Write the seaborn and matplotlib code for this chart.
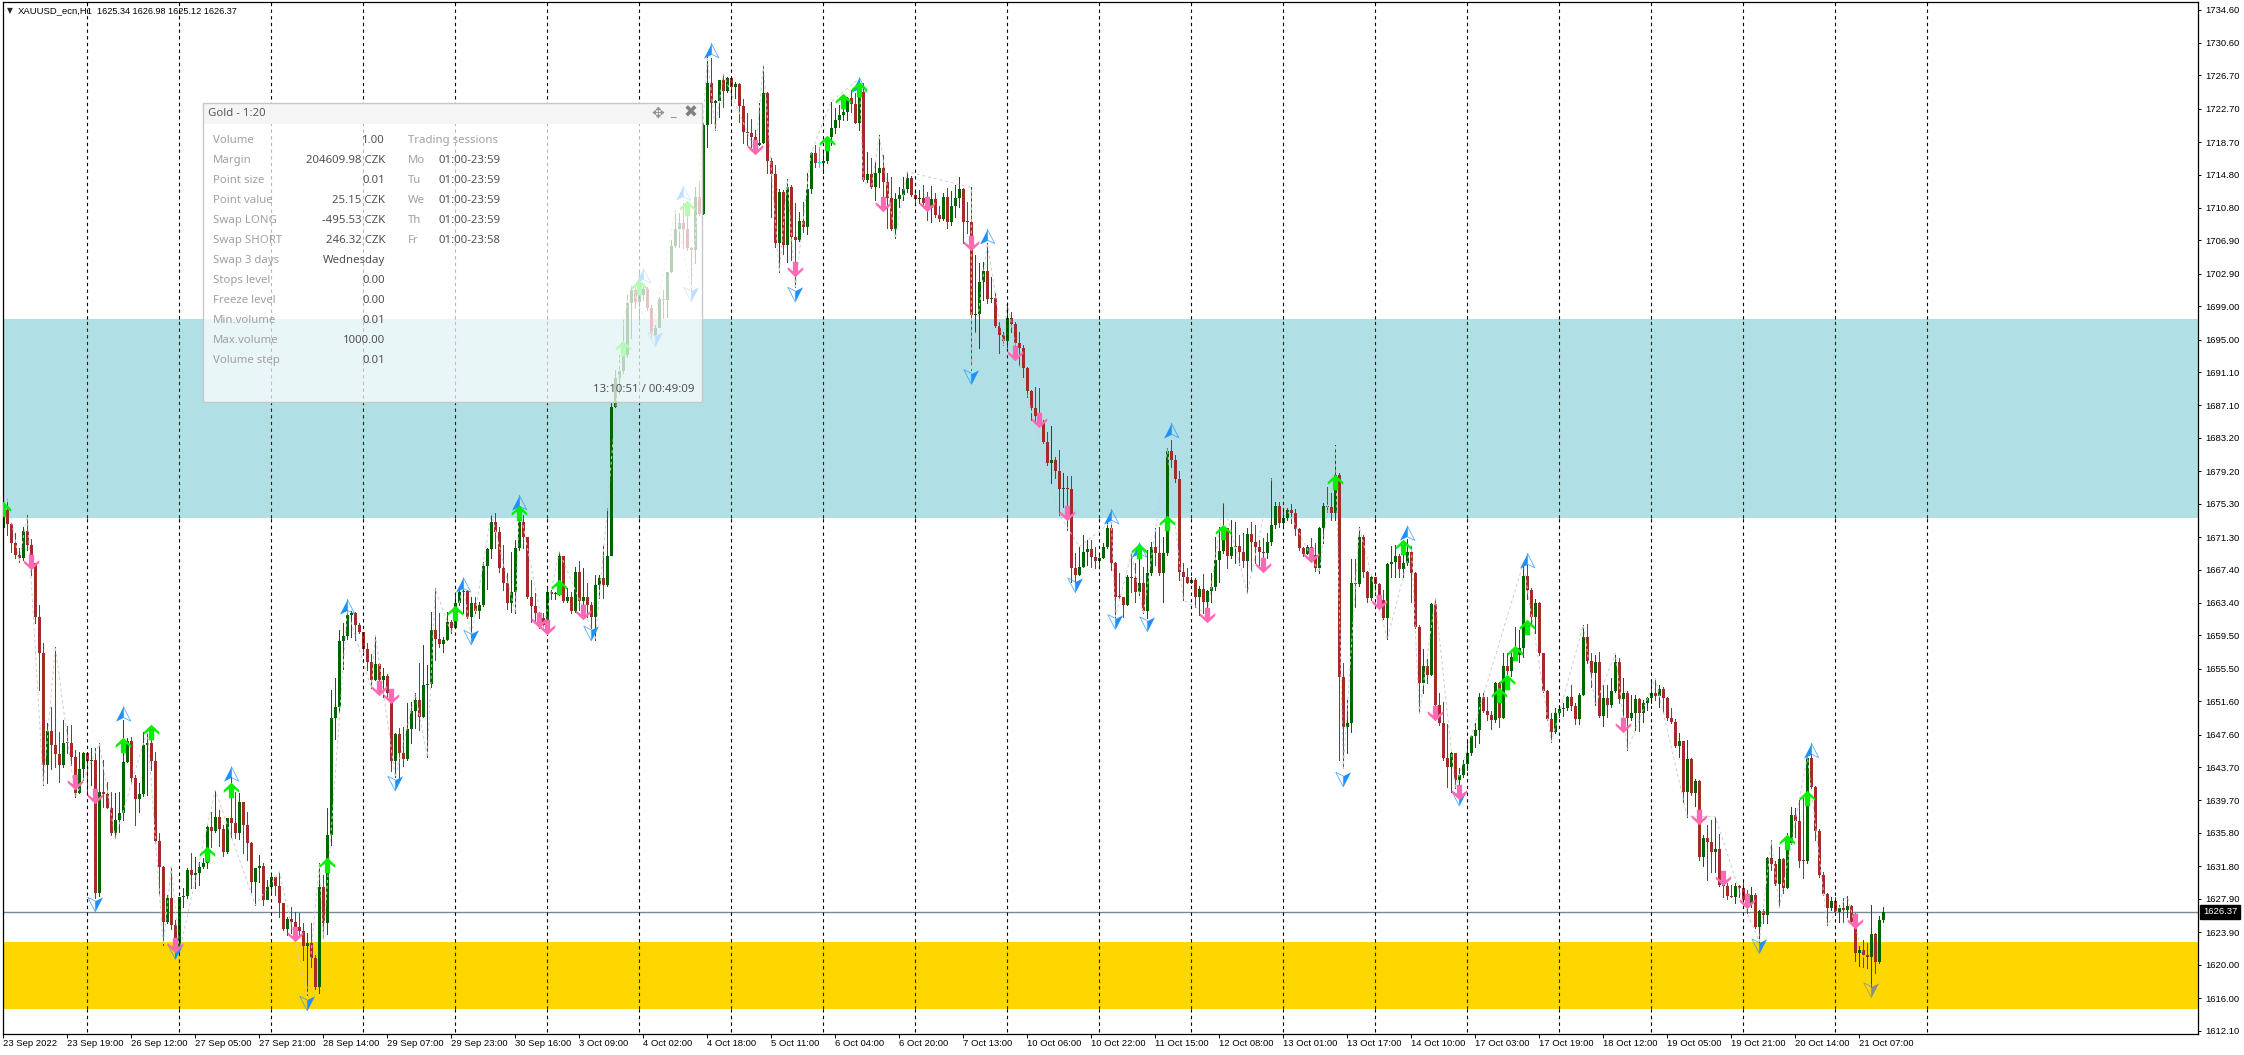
import matplotlib
matplotlib.use('Agg')
import matplotlib.pyplot as plt
import seaborn as sns
import pandas as pd
from matplotlib.patches import Rectangle
from matplotlib.path import Path

sns.set_theme(style='white')
plt.rcParams['font.family'] = ['Liberation Sans', 'DejaVu Sans']

W, H = 2244, 1055

first_open = 1672.35
close_prices = [
    1674.55,1672.83,1670.55,1669.15,1668.75,1672.07,1670.35,1668.15,1661.75,1657.35,
    1643.95,1648.05,1646.35,1645.25,1643.95,1646.65,1646.55,1644.95,1640.63,1643.43,
    1645.35,1644.47,1644.55,1628.55,1640.75,1640.45,1638.85,1635.75,1637.35,1638.23,
    1644.35,1646.87,1642.35,1639.83,1640.47,1646.35,1646.55,1644.47,1634.87,1631.67,
    1625.15,1627.95,1624.75,1621.75,1628.07,1628.23,1631.35,1630.75,1631.03,1631.67,
    1632.23,1636.47,1636.07,1637.75,1636.23,1633.55,1637.55,1637.03,1635.75,1639.55,
    1636.75,1634.55,1629.95,1631.55,1631.83,1627.75,1629.35,1630.47,1629.43,1627.43,
    1624.23,1625.43,1625.11,1624.47,1624.07,1622.23,1622.55,1620.75,1617.35,1629.35,
    1624.95,1635.55,1649.55,1650.95,1658.87,1659.43,1661.95,1662.23,1660.75,1659.95,
    1657.83,1656.35,1654.15,1656.03,1654.15,1654.63,1652.55,1644.43,1647.67,1645.35,
    1644.63,1648.23,1650.47,1651.75,1649.67,1653.55,1653.67,1660.15,1659.03,1658.43,
    1658.95,1661.15,1660.35,1663.35,1664.75,1664.87,1661.75,1663.43,1662.47,1663.15,
    1667.83,1669.83,1673.15,1671.95,1667.55,1665.83,1663.35,1664.75,1669.95,1673.15,
    1671.35,1664.15,1663.03,1662.15,1661.55,1660.75,1664.75,1664.47,1664.60,1669.03,
    1663.67,1664.07,1662.47,1667.15,1663.67,1664.07,1663.15,1661.75,1665.55,1666.43,
    1665.55,1669.03,1686.94,1690.34,1691.26,1693.14,1699.34,1700.94,1699.54,1700.34,
    1701.02,1698.74,1695.54,1696.34,1699.82,1699.74,1703.14,1706.22,1708.22,1708.94,
    1708.22,1705.94,1705.74,1712.06,1710.06,1720.74,1725.82,1723.34,1723.62,1726.14,
    1724.86,1726.34,1725.26,1725.66,1723.02,1719.94,1719.82,1719.34,1718.34,1718.54,
    1724.62,1716.46,1714.86,1706.54,1712.74,1706.34,1713.34,1707.26,1707.00,1709.26,
    1708.54,1713.02,1717.42,1716.22,1716.22,1716.46,1719.26,1720.34,1721.34,1721.94,
    1722.34,1723.94,1723.26,1721.02,1724.74,1714.14,1714.86,1713.26,1714.94,1715.54,
    1713.94,1711.94,1708.22,1711.82,1712.34,1713.02,1714.34,1712.34,1711.90,1712.02,
    1711.34,1710.74,1711.82,1709.95,1709.43,1712.15,1709.15,1711.03,1711.95,1713.10,
    1709.15,1709.05,1697.95,1698.03,1701.95,1703.23,1699.87,1699.95,1696.63,1695.55,
    1694.87,1697.55,1696.87,1694.55,1693.95,1691.63,1688.83,1686.75,1685.83,1685.03,
    1682.75,1680.15,1680.55,1679.27,1677.03,1677.15,1677.03,1667.63,1666.75,1667.75,
    1669.55,1669.83,1668.87,1668.47,1668.75,1670.15,1672.35,1668.23,1664.15,1664.07,
    1663.15,1666.47,1666.35,1664.75,1665.75,1662.47,1666.95,1670.15,1669.43,1666.95,
    1669.35,1681.67,1680.55,1678.23,1667.15,1666.47,1665.83,1666.15,1664.07,1665.03,
    1663.55,1664.87,1665.27,1668.55,1669.67,1672.35,1669.03,1670.15,1670.23,1669.55,
    1668.47,1671.67,1670.75,1670.07,1669.55,1669.43,1670.75,1672.75,1675.03,1672.95,
    1673.55,1674.55,1674.15,1672.23,1669.95,1669.27,1670.15,1669.20,1667.55,1672.35,
    1675.03,1674.87,1674.15,1678.75,1654.55,1648.55,1648.95,1665.75,1665.67,1671.35,
    1667.15,1663.95,1666.55,1665.67,1663.75,1661.55,1668.07,1668.27,1669.03,1667.43,
    1668.23,1669.55,1667.03,1660.55,1653.83,1655.83,1654.75,1663.27,1651.15,1649.03,
    1644.75,1643.75,1645.35,1642.15,1642.75,1644.07,1645.35,1647.43,1648.15,1652.07,
    1650.47,1649.95,1649.35,1653.75,1649.55,1655.83,1655.27,1656.95,1657.15,1657.95,
    1666.63,1664.95,1661.75,1663.43,1657.35,1652.87,1649.43,1647.95,1650.15,1650.63,
    1650.75,1652.15,1651.03,1649.43,1652.35,1659.27,1656.47,1655.03,1656.35,1649.84,
    1651.96,1651.16,1652.84,1656.36,1651.84,1652.56,1649.56,1650.24,1651.84,1650.16,
    1651.36,1651.96,1652.56,1652.24,1653.04,1651.96,1649.56,1649.16,1646.24,1646.88,
    1640.76,1644.64,1640.64,1642.08,1632.96,1635.16,1634.76,1633.56,1633.84,1629.56,
    1629.44,1628.24,1628.16,1629.44,1629.16,1627.76,1627.44,1628.36,1624.56,1626.48,
    1625.96,1632.76,1632.08,1629.68,1632.64,1629.16,1634.56,1637.96,1637.28,1632.48,
    1632.40,1644.76,1641.36,1636.08,1630.76,1628.48,1626.76,1627.64,1626.36,1626.76,
    1626.56,1627.04,1625.16,1621.44,1621.76,1621.16,1620.88,1623.68,1620.36,1625.36,
    1626.37]

high_prices = [
    1675.15,1675.83,1673.03,1671.75,1669.95,1672.55,1674.15,1671.03,1668.15,1663.15,
    1658.55,1648.95,1650.95,1658.15,1647.95,1649.35,1648.63,1648.75,1645.75,1645.55,
    1645.55,1645.55,1645.95,1645.95,1646.55,1644.55,1641.95,1640.75,1640.63,1640.75,
    1649.35,1647.15,1647.35,1642.75,1641.75,1647.95,1648.15,1647.35,1645.55,1635.75,
    1631.83,1628.35,1631.75,1625.35,1628.15,1629.15,1631.55,1633.35,1632.95,1632.35,
    1632.75,1636.75,1638.35,1640.95,1638.55,1636.75,1637.55,1642.55,1640.75,1640.55,
    1639.55,1638.35,1634.75,1631.55,1633.15,1632.15,1630.15,1630.63,1630.55,1631.15,
    1627.43,1625.75,1626.87,1626.35,1626.15,1624.95,1623.75,1624.95,1621.15,1632.15,
    1630.75,1638.75,1652.95,1654.35,1660.15,1661.03,1662.55,1662.47,1662.35,1660.95,
    1659.83,1658.55,1657.27,1659.55,1656.15,1655.55,1654.83,1652.55,1647.83,1648.35,
    1648.47,1651.35,1651.55,1652.55,1656.23,1658.35,1655.95,1662.35,1665.15,1662.15,
    1659.35,1662.35,1661.35,1664.55,1665.35,1665.35,1664.95,1664.15,1664.07,1663.55,
    1668.35,1669.95,1674.15,1674.23,1672.47,1670.35,1666.95,1669.55,1670.95,1674.95,
    1673.95,1671.35,1666.15,1664.55,1662.35,1662.15,1665.15,1664.95,1664.75,1669.55,
    1669.03,1665.15,1664.75,1667.67,1668.43,1667.55,1665.75,1663.55,1666.75,1666.75,
    1670.23,1674.75,1687.50,1691.34,1693.14,1697.34,1700.34,1701.54,1701.34,1702.94,
    1701.34,1701.34,1699.14,1696.74,1700.14,1700.94,1703.14,1706.94,1710.54,1710.14,
    1711.34,1711.34,1706.14,1713.34,1714.14,1720.94,1728.94,1728.74,1723.74,1726.14,
    1726.86,1726.54,1726.14,1725.94,1725.74,1723.82,1722.22,1721.42,1720.14,1723.34,
    1727.94,1724.74,1716.74,1715.94,1713.02,1712.94,1714.22,1713.54,1711.34,1710.34,
    1711.54,1714.94,1717.54,1718.34,1718.14,1717.74,1719.34,1723.54,1722.74,1723.14,
    1724.14,1724.14,1724.94,1724.54,1726.34,1725.74,1717.54,1716.74,1716.34,1719.54,
    1717.14,1714.94,1714.54,1712.54,1713.34,1714.54,1715.14,1714.62,1712.74,1712.94,
    1713.54,1712.74,1713.42,1712.54,1711.00,1712.60,1713.20,1712.80,1713.50,1714.50,
    1713.20,1711.50,1713.25,1705.15,1704.15,1704.35,1706.55,1702.55,1700.55,1697.15,
    1695.95,1699.55,1698.35,1697.15,1695.95,1694.35,1691.75,1688.95,1689.35,1689.25,
    1685.35,1683.95,1684.63,1680.95,1681.75,1678.95,1678.63,1678.63,1669.35,1670.15,
    1671.55,1670.95,1670.95,1670.15,1669.40,1670.55,1673.15,1673.15,1668.35,1666.95,
    1664.15,1666.75,1669.35,1668.15,1669.35,1667.75,1669.75,1670.75,1672.35,1672.55,
    1671.35,1681.95,1682.95,1681.15,1679.25,1668.15,1667.55,1666.55,1666.35,1665.40,
    1666.85,1664.95,1666.95,1671.35,1672.55,1675.55,1672.15,1673.35,1673.15,1671.55,
    1671.75,1672.35,1673.15,1672.75,1670.95,1671.15,1671.75,1678.35,1675.55,1675.55,
    1674.75,1674.75,1675.27,1674.63,1672.35,1670.15,1670.35,1671.15,1670.55,1672.55,
    1675.35,1677.35,1676.55,1682.35,1679.00,1656.15,1651.75,1668.63,1668.63,1672.55,
    1671.55,1667.27,1666.63,1666.15,1665.83,1664.95,1668.15,1670.23,1670.35,1669.27,
    1670.95,1671.03,1670.35,1667.15,1660.75,1657.83,1656.63,1663.35,1663.95,1652.55,
    1651.55,1648.87,1645.55,1645.35,1643.55,1644.55,1646.95,1647.55,1648.95,1652.55,
    1652.55,1652.15,1650.47,1653.95,1653.95,1657.35,1657.35,1657.35,1660.55,1660.15,
    1668.15,1667.95,1665.15,1663.83,1663.55,1657.43,1652.95,1650.23,1650.75,1651.15,
    1651.35,1652.23,1653.55,1651.35,1652.55,1660.75,1660.87,1657.35,1657.15,1657.48,
    1653.56,1653.56,1654.36,1657.36,1656.76,1654.36,1652.88,1652.36,1652.36,1651.96,
    1651.76,1652.16,1654.16,1654.36,1653.56,1653.36,1652.08,1650.76,1649.44,1647.76,
    1646.88,1646.96,1644.76,1642.24,1642.16,1635.56,1636.76,1637.36,1637.76,1635.68,
    1630.16,1629.76,1629.56,1629.76,1629.56,1630.16,1628.96,1629.36,1628.56,1626.56,
    1626.64,1632.88,1634.96,1632.48,1634.08,1632.76,1635.76,1638.88,1638.76,1639.76,
    1640.00,1644.96,1645.24,1641.44,1636.24,1631.16,1628.64,1628.16,1628.16,1627.16,
    1627.96,1628.24,1627.16,1626.16,1622.24,1622.96,1622.56,1627.16,1623.76,1625.84,
    1626.96]

low_prices = [
    1672.23,1671.55,1669.55,1668.75,1668.35,1668.55,1669.75,1666.75,1660.95,1652.95,
    1641.55,1641.83,1643.43,1643.75,1641.95,1643.75,1645.35,1643.95,1640.07,1640.55,
    1642.15,1640.75,1641.55,1627.95,1628.20,1638.95,1638.85,1635.55,1635.15,1635.95,
    1637.35,1644.35,1641.75,1636.75,1638.35,1640.23,1640.35,1643.35,1634.63,1628.35,
    1622.35,1624.95,1624.23,1620.95,1621.55,1626.95,1627.95,1629.15,1629.15,1629.55,
    1631.55,1631.55,1634.15,1635.95,1634.23,1633.03,1633.35,1635.35,1635.15,1635.03,
    1633.35,1632.55,1628.75,1627.15,1629.95,1627.15,1627.83,1628.55,1628.35,1625.67,
    1624.15,1623.55,1623.75,1623.35,1623.35,1620.55,1616.35,1619.75,1617.03,1616.55,
    1623.15,1623.67,1634.35,1647.03,1650.35,1655.43,1659.03,1659.27,1658.95,1659.83,
    1657.67,1655.35,1653.15,1654.15,1652.55,1652.15,1652.15,1643.27,1642.47,1642.35,
    1643.83,1644.55,1646.55,1648.35,1648.15,1649.67,1644.95,1653.35,1656.55,1658.15,
    1657.55,1658.95,1659.75,1660.75,1663.15,1662.23,1661.55,1659.35,1662.15,1661.55,
    1663.03,1665.03,1668.75,1669.95,1667.15,1664.95,1662.63,1662.35,1662.23,1669.75,
    1669.95,1663.95,1661.15,1660.95,1660.35,1660.35,1661.35,1663.83,1663.83,1664.35,
    1663.55,1663.55,1662.23,1662.35,1662.55,1662.95,1661.75,1660.35,1658.95,1663.95,
    1663.95,1665.43,1670.20,1686.94,1688.54,1690.94,1692.94,1695.14,1698.74,1697.34,
    1699.74,1698.54,1695.34,1695.54,1697.54,1697.54,1697.74,1703.14,1706.14,1706.14,
    1705.94,1705.74,1700.94,1704.14,1709.94,1710.06,1718.14,1720.94,1720.14,1721.74,
    1722.86,1724.74,1723.34,1723.94,1721.14,1718.54,1718.34,1718.14,1717.54,1718.34,
    1718.54,1714.94,1709.74,1706.14,1703.14,1705.26,1704.34,1704.54,1701.34,1706.86,
    1707.94,1707.66,1712.54,1715.74,1715.74,1714.94,1716.14,1718.34,1719.74,1720.46,
    1721.34,1721.34,1722.34,1720.94,1720.14,1714.06,1713.94,1713.14,1711.74,1713.34,
    1711.14,1708.34,1708.14,1707.14,1710.94,1711.74,1712.74,1712.22,1711.14,1711.34,
    1710.94,1709.34,1709.14,1709.74,1709.20,1709.35,1708.35,1708.75,1709.75,1710.90,
    1706.55,1707.75,1691.35,1695.95,1693.95,1699.75,1699.35,1699.50,1696.55,1693.35,
    1694.35,1694.15,1695.95,1692.55,1691.75,1690.55,1688.15,1685.35,1685.15,1684.75,
    1682.55,1679.95,1677.75,1678.35,1673.95,1674.95,1672.15,1665.95,1665.95,1666.70,
    1667.70,1667.95,1667.75,1667.55,1667.55,1668.85,1669.95,1667.35,1661.75,1664.00,
    1661.75,1663.15,1664.75,1663.55,1664.35,1662.15,1661.55,1666.75,1667.95,1666.75,
    1663.55,1669.15,1679.75,1677.95,1666.15,1663.75,1665.75,1665.75,1662.95,1661.95,
    1662.15,1661.95,1663.55,1665.00,1665.95,1669.35,1667.55,1668.75,1668.15,1667.95,
    1667.75,1664.55,1667.27,1668.15,1667.95,1668.15,1668.75,1670.35,1672.35,1672.47,
    1672.55,1673.35,1672.95,1671.55,1669.75,1669.03,1669.25,1668.75,1667.27,1667.03,
    1670.63,1674.35,1673.35,1673.35,1644.55,1643.55,1645.35,1647.95,1662.87,1665.43,
    1666.55,1663.55,1663.75,1664.35,1662.95,1661.43,1659.03,1666.55,1666.55,1666.47,
    1666.55,1667.95,1663.55,1660.35,1650.15,1652.55,1653.75,1654.70,1650.95,1648.75,
    1644.55,1641.27,1640.75,1641.15,1641.15,1642.55,1643.35,1645.15,1646.15,1646.55,
    1650.35,1649.35,1648.23,1649.15,1648.55,1649.55,1654.35,1654.63,1656.87,1656.35,
    1656.95,1663.83,1660.95,1659.75,1657.15,1652.75,1649.35,1646.75,1647.83,1649.75,
    1649.83,1650.55,1650.55,1648.87,1648.87,1652.30,1656.23,1653.27,1651.15,1649.68,
    1648.64,1649.76,1650.96,1652.76,1651.44,1649.76,1645.76,1649.36,1648.16,1648.08,
    1649.16,1650.56,1651.36,1651.76,1650.88,1650.36,1649.36,1648.96,1646.16,1644.88,
    1639.56,1637.76,1640.36,1639.08,1632.56,1631.84,1630.16,1631.16,1631.16,1629.44,
    1628.08,1627.84,1628.08,1627.44,1628.16,1627.36,1626.24,1626.96,1624.36,1622.76,
    1625.04,1625.04,1631.36,1629.56,1626.88,1628.56,1629.16,1634.48,1635.36,1631.76,
    1630.36,1632.24,1641.16,1634.96,1630.56,1628.36,1624.76,1626.56,1626.24,1625.16,
    1625.16,1625.68,1624.96,1620.48,1619.84,1619.76,1619.56,1617.36,1619.04,1620.24,
    1625.12]

# zigzag pivots
zigzag_bars = [1,4,6,10,13,18,24,28,36,40,42,44,53,63,69,76,79,80,86,92,93,98,103,106,108,112,115,
               117,122,128,129,135,139,147,148,151,155,157,162,168,172,174,176,178,180,188,190,194,
               196,198,202,207,214,215,217,219,223,226,242,242,246,250,251,254,264,269,277,278,282,
               285,291,295,298,301,305,311,317,329,333,335,339,346,352,354,358,363,380,387,395,398,
               403,406,413,421,428,435,439,442,444,451,456,461,467]
zigzag_prices = [1675.83,1668.35,1674.15,1641.55,1658.15,1640.07,1646.55,1635.15,1648.15,1622.35,1631.75,
                 1621.55,1640.95,1627.15,1631.15,1616.35,1632.15,1623.15,1662.55,1653.15,1659.55,1642.47,
                 1652.55,1644.95,1665.15,1659.75,1665.35,1659.35,1674.15,1662.23,1674.95,1660.35,1669.55,
                 1660.35,1658.95,1674.75,1697.34,1701.54,1695.34,1710.54,1700.94,1714.14,1728.94,1720.14,
                 1726.86,1717.54,1727.94,1703.14,1714.22,1701.34,1717.54,1723.54,1726.34,1714.06,1713.14,
                 1719.54,1707.14,1715.14,1713.25,1691.35,1706.55,1694.35,1699.55,1691.75,1673.95,1670.15,
                 1673.15,1661.75,1669.35,1662.15,1681.95,1663.75,1662.95,1661.95,1675.55,1664.55,1678.35,
                 1667.03,1682.35,1643.55,1672.55,1659.03,1670.35,1650.15,1663.95,1641.15,1668.15,1646.75,
                 1660.75,1651.15,1657.36,1645.76,1654.36,1637.76,1637.76,1627.36,1622.76,1634.96,1626.88,
                 1644.96,1624.76,1628.24,1617.36]

# signal marks
blue_up_bars = [30,57,86,115,129,160,170,177,214,246,277,284,292,351,381,452]
blue_up_prices = [1650.07,1642.87,1662.95,1665.55,1675.43,1702.62,1712.54,1729.66,1725.54,1707.35,
                  1673.75,1669.75,1684.07,1671.75,1668.47,1645.68]
blue_down_bars = [23,43,76,98,117,147,163,172,198,242,268,278,286,335,364,439]
blue_down_prices = [1627.23,1621.55,1615.35,1641.75,1659.27,1659.75,1695.02,1700.42,1700.42,1690.55,
                    1665.55,1661.15,1660.87,1642.23,1639.95,1622.24]
gray_down_bars = [467]
gray_down_prices = [1616.96]
green_bars = [0,30,37,51,57,81,113,129,139,155,159,171,206,210,214,284,291,305,333,350,374,376,378,381,446,451]
green_prices = [1674.63,1646.35,1647.95,1633.27,1640.95,1631.95,1662.23,1674.23,1665.27,1694.02,1701.34,
                1710.74,1718.54,1723.62,1725.02,1669.67,1672.95,1671.95,1677.95,1670.15,1652.35,1653.95,
                1657.35,1660.47,1634.76,1639.96]
pink_bars = [7,18,23,43,73,94,97,134,136,145,188,198,220,231,242,253,259,266,301,315,327,344,358,364,
             405,424,430,436,463]
pink_prices = [1668.35,1641.95,1640.23,1622.35,1623.67,1653.15,1652.23,1661.35,1660.55,1662.35,1718.06,
               1703.42,1711.26,1711.26,1706.55,1693.43,1685.35,1674.23,1661.95,1667.95,1669.15,1663.55,
               1650.15,1640.75,1648.76,1637.76,1630.36,1627.68,1625.28]

price_ticks = [1734.60,1730.60,1726.70,1722.70,1718.70,1714.80,1710.80,1706.90,1702.90,1699.00,1695.00,
               1691.10,1687.10,1683.20,1679.20,1675.30,1671.30,1667.40,1663.40,1659.50,1655.50,1651.60,
               1647.60,1643.70,1639.70,1635.80,1631.80,1627.90,1623.90,1620.00,1616.00,1612.10]
date_labels = ['23 Sep 2022','23 Sep 19:00','26 Sep 12:00','27 Sep 05:00','27 Sep 21:00','28 Sep 14:00',
               '29 Sep 07:00','29 Sep 23:00','30 Sep 16:00','3 Oct 09:00','4 Oct 02:00','4 Oct 18:00',
               '5 Oct 11:00','6 Oct 04:00','6 Oct 20:00','7 Oct 13:00','10 Oct 06:00','10 Oct 22:00',
               '11 Oct 15:00','12 Oct 08:00','13 Oct 01:00','13 Oct 17:00','14 Oct 10:00','17 Oct 03:00',
               '17 Oct 19:00','18 Oct 12:00','19 Oct 05:00','19 Oct 21:00','20 Oct 14:00','21 Oct 07:00']
separator_bars = list(range(21, 482, 23))

teal_zone = (1673.63, 1697.47)
gold_zone = (1614.72, 1622.76)
current_price = 1626.37

panel_labels = ['Volume','Margin','Point size','Point value','Swap LONG','Swap SHORT','Swap 3 days',
                'Stops level','Freeze level','Min.volume','Max.volume','Volume step']
panel_values = ['1.00','204609.98 CZK','0.01','25.15 CZK','-495.53 CZK','246.32 CZK','Wednesday',
                '0.00','0.00','0.01','1000.00','0.01']
session_days = ['Mo','Tu','We','Th','Fr']
session_times = ['01:00-23:59','01:00-23:59','01:00-23:59','01:00-23:59','01:00-23:58']

df = pd.DataFrame({'close': close_prices, 'high': high_prices, 'low': low_prices})
df['bar'] = df.index
df['open'] = [first_open] + close_prices[:-1]
df['top'] = df[['open', 'close']].max(axis=1)
df['bottom'] = df[['open', 'close']].min(axis=1)

ymin, ymax = 1611.73, 1735.47
xmin, xmax = -0.15, 548.67

fig = plt.figure(figsize=(W / 100, H / 100), dpi=100, facecolor='white')
ax = fig.add_axes([2.7 / W, (H - 1033.6) / H, (2198 - 2.7) / W, (1033.6 - 2.3) / H])

# zones and last price line
ax.axhspan(*teal_zone, color='#B0E0E6', lw=0, zorder=0)
ax.axhspan(*gold_zone, color='#FFD700', lw=0, zorder=0)
ax.axhline(current_price, color='#778899', lw=1.0, zorder=1)

# candles
for mask, color in [(df['close'] > df['open'], '#006400'),
                    (df['close'] < df['open'], '#A52A2A'),
                    (df['close'] == df['open'], '#00E5EE')]:
    part = df[mask]
    ax.vlines(part['bar'], part['low'], part['high'], color=color, lw=0.7, antialiased=False, zorder=2)
    ax.bar(part['bar'], (part['top'] - part['bottom']).clip(lower=0.12), bottom=part['bottom'], width=0.8,
           color=color, linewidth=0, antialiased=False, zorder=2)

# period separators change colour over the zones
segments = [(1611.95, gold_zone[0], 'black'), (gold_zone[0], gold_zone[1], '#0000C8'),
            (gold_zone[1], teal_zone[0], 'black'), (teal_zone[0], teal_zone[1], '#4F0A0A'),
            (teal_zone[1], ymax, 'black')]
for lo, hi, color in segments:
    ax.vlines(separator_bars, lo, hi, color=color, lw=0.8, linestyles=(0, (3, 3)), zorder=3)

sns.lineplot(x=zigzag_bars, y=zigzag_prices, sort=False, estimator=None, color='#CCCCCC', lw=0.7,
             linestyle=(0, (3, 3)), ax=ax, zorder=2.5)

# marker shapes
up_arrow = Path([(0, 1), (1, 0.05), (1, -0.3), (0.34, 0.22), (0.34, -1), (-0.34, -1), (-0.34, 0.22),
                 (-1, -0.3), (-1, 0.05), (0, 1)], closed=True)
down_arrow = Path([(x, -y) for x, y in up_arrow.vertices], closed=True)
head_left = Path([(0, 1), (-1, -0.95), (0, -0.45), (0, 1)], closed=True)
head_right = Path([(0, 1), (1, -0.95), (0, -0.45), (0, 1)], closed=True)
head_left_d = Path([(0, -1), (-1, 0.95), (0, 0.45), (0, -1)], closed=True)
head_right_d = Path([(0, -1), (1, 0.95), (0, 0.45), (0, -1)], closed=True)

head_size = (15 * 0.72) ** 2
arrow_size = (15.5 * 0.72) ** 2


def draw_heads(bars, prices, filled, outline, color):
    sns.scatterplot(x=bars, y=prices, marker=filled, s=head_size, color=color, linewidth=0, ax=ax, zorder=4)
    ax.scatter(bars, prices, marker=outline, s=head_size, facecolors='none', edgecolors=color,
               linewidths=0.6, alpha=0.75, zorder=4)


draw_heads(blue_up_bars, blue_up_prices, head_left, head_right, '#1E90FF')
draw_heads(blue_down_bars, blue_down_prices, head_right_d, head_left_d, '#1E90FF')
draw_heads(gray_down_bars, gray_down_prices, head_right_d, head_left_d, '#8C8C8C')
sns.scatterplot(x=green_bars, y=green_prices, marker=up_arrow, s=arrow_size, color='#00F000', linewidth=0,
                ax=ax, zorder=5)
sns.scatterplot(x=pink_bars, y=pink_prices, marker=down_arrow, s=arrow_size, color='#FF69B4', linewidth=0,
                ax=ax, zorder=5)

ax.set_xlim(xmin, xmax)
ax.set_ylim(ymin, ymax)
ax.set_xlabel('')
ax.set_ylabel('')
for spine in ax.spines.values():
    spine.set_color('black')
    spine.set_linewidth(0.9)

ax.yaxis.tick_right()
ax.set_yticks(price_ticks)
ax.set_yticklabels(['%.2f' % p for p in price_ticks])
ax.set_xticks(range(0, 16 * len(date_labels), 16))
ax.set_xticklabels(date_labels, ha='left')
ax.tick_params(axis='y', length=2.2, width=0.7, pad=3.4, labelsize=6.8, colors='black', right=True, left=False)
ax.tick_params(axis='x', length=2.6, width=0.7, pad=1.6, labelsize=6.8, colors='black', bottom=True)

# last price tag
ax.text(1.0022, current_price, '%.2f' % current_price, transform=ax.get_yaxis_transform(), color='white',
        fontsize=6.8, va='center', ha='left', clip_on=False, zorder=6,
        bbox=dict(facecolor='black', edgecolor='black', pad=1.8))

# header line
fig.text(9.5 / W, 1 - 11 / H, '\u25bc', fontsize=5.5, family='DejaVu Sans', ha='center', va='center')
fig.text(17.7 / W, 1 - 11 / H, 'XAUUSD_ecn,H1', fontsize=6.8, va='center', color='black')
fig.text(97 / W, 1 - 11 / H, '1625.34 1626.98 1625.12 1626.37', fontsize=6.6, va='center', color='black')

# floating symbol panel
fig.add_artist(Rectangle((203.3 / W, 1 - 402.3 / H), (702.4 - 203.3) / W, (402.3 - 103.3) / H,
                         transform=fig.transFigure, facecolor='white', edgecolor='none', alpha=0.72, zorder=2))
fig.add_artist(Rectangle((203.3 / W, 1 - 124 / H), (702.4 - 203.3) / W, (124 - 103.3) / H,
                         transform=fig.transFigure, facecolor='#F5F5F5', edgecolor='none', zorder=2.1))
fig.add_artist(Rectangle((203.3 / W, 1 - 402.3 / H), (702.4 - 203.3) / W, (402.3 - 103.3) / H,
                         transform=fig.transFigure, facecolor='none', edgecolor='#C8C8C8', lw=1.0, zorder=2.2))

panel_font = 'Noto Sans'
fig.text(207.7 / W, 1 - 113 / H, 'Gold - 1:20', fontsize=8.2, family=panel_font, color='#5A5A5A', va='center', zorder=3)
for k, (lab, val) in enumerate(zip(panel_labels, panel_values)):
    y = 1 - (140.5 + 20 * k) / H
    fig.text(213 / W, y, lab, fontsize=8.2, family=panel_font, color='#A0A0A0', va='center', zorder=3)
    fig.text(385 / W, y, val, fontsize=8.2, family=panel_font, color='#505050', va='center', ha='right', zorder=3)
fig.text(408 / W, 1 - 140.5 / H, 'Trading sessions', fontsize=8.2, family=panel_font, color='#A0A0A0', va='center', zorder=3)
for k, (day, tm) in enumerate(zip(session_days, session_times)):
    y = 1 - (160.5 + 20 * k) / H
    fig.text(408 / W, y, day, fontsize=8.2, family=panel_font, color='#A0A0A0', va='center', zorder=3)
    fig.text(438.3 / W, y, tm, fontsize=8.2, family=panel_font, color='#505050', va='center', zorder=3)
fig.text(694.7 / W, 1 - 390 / H, '13:10:51 / 00:49:09', fontsize=8.2, family=panel_font, color='#505050',
         va='center', ha='right', zorder=3)
fig.text(658 / W, 1 - 113 / H, '\u2725', fontsize=11, family='DejaVu Sans', color='#909090', ha='center', va='center', zorder=3)
fig.text(673 / W, 1 - 113.5 / H, '_', fontsize=8, family='DejaVu Sans', color='#808080', ha='center', va='center', zorder=3)
fig.text(691 / W, 1 - 113 / H, '\u2716', fontsize=12, family='DejaVu Sans', color='#808080', ha='center', va='center', zorder=3)

fig.savefig('out.png', dpi=100)
